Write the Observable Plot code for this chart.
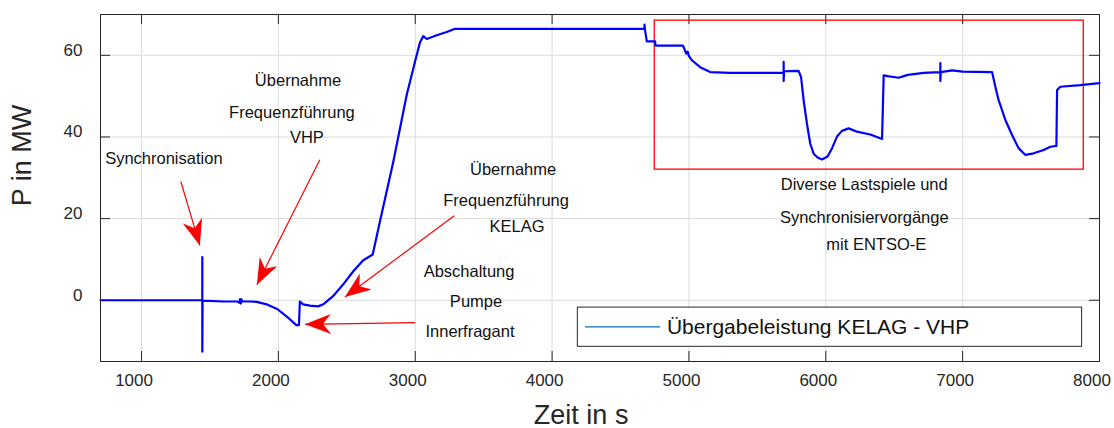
<!DOCTYPE html>
<html>
<head>
<meta charset="utf-8">
<script src="https://cdn.jsdelivr.net/npm/d3@7"></script>
<script src="https://cdn.jsdelivr.net/npm/@observablehq/plot@0.6"></script>
<style>
  html, body { margin: 0; padding: 0; background: #fff; }
  #chart { width: 1114px; height: 428px; }
</style>
</head>
<body>
<div id="chart"></div>
<script>
// ---- data ----
const timeS = [700, 1440, 1444, 1444, 1444, 1446, 1600, 1700, 1715, 1720, 1725, 1730, 1735, 1800, 1841, 1914, 1994, 2075, 2131, 2150, 2157, 2181, 2230, 2290, 2328, 2399, 2474, 2547, 2620, 2689, 2742, 2840, 2937, 2998, 3035, 3059, 3084, 3157, 3230, 3291, 4675, 4675, 4680, 4692, 4753, 4755, 4956, 4980, 4990, 5000, 5021, 5082, 5155, 5300, 5692, 5692, 5692, 5695, 5801, 5819, 5838, 5862, 5886, 5911, 5940, 5972, 6013, 6045, 6082, 6118, 6167, 6228, 6325, 6411, 6423, 6452, 6532, 6600, 6715, 6837, 6837, 6837, 6840, 6923, 7000, 7215, 7239, 7263, 7313, 7361, 7410, 7459, 7519, 7592, 7641, 7685, 7690, 7714, 7860, 8000];
const powerMW = [0, 0, 0, 10.6, -12.6, -0.1, -0.3, -0.3, -0.6, 0.3, -0.8, 0.2, -0.3, -0.3, -0.4, -1.0, -2.2, -4.4, -6.1, -6.1, -0.3, -1.0, -1.3, -1.5, -1.0, 1.0, 3.9, 7.1, 9.8, 11.2, 19.3, 34, 50.2, 58.4, 63.2, 64.7, 64.0, 64.9, 65.7, 66.5, 66.5, 67.5, 66.0, 63.4, 63.4, 62.4, 62.4, 60.4, 60.9, 59.8, 58.8, 57.1, 55.9, 55.7, 55.7, 58.4, 53.7, 56.1, 56.2, 54.7, 49.0, 43.3, 38.4, 35.9, 34.95, 34.5, 35.2, 37.2, 40.1, 41.5, 42.1, 41.3, 40.6, 39.5, 55.1, 54.9, 54.5, 55.2, 55.7, 55.9, 58.1, 53.7, 55.9, 56.3, 56.0, 55.9, 52.3, 49.0, 44.1, 40.5, 37.2, 35.6, 36.0, 36.8, 37.6, 37.8, 51.5, 52.3, 52.7, 53.2];

const xTicks = [1000, 2000, 3000, 4000, 5000, 6000, 7000, 8000];
const yTicks = [0, 20, 40, 60];

const seriesName = "Übergabeleistung KELAG - VHP";
const xLabel = "Zeit in s";
const yLabel = "P in MW";

// annotation texts (data coordinates)
const annText = ["Synchronisation",
  "Übernahme", "Frequenzführung", "VHP",
  "Übernahme", "Frequenzführung", "KELAG",
  "Abschaltung", "Pumpe", "Innerfragant",
  "Diverse Lastspiele und", "Synchronisiervorgänge", "mit ENTSO-E"];
const annX = [1163, 2143, 2099, 2208, 3715, 3664, 3744, 3393, 3444, 3400, 6281, 6281, 6369];
const annY = [34.7, 53.7, 45.9, 39.8, 32.0, 24.5, 17.9, 6.9, -0.4, -7.7, 28.4, 20.1, 13.5];

// annotation arrows: start -> tip
const arrowX1 = [1287, 2303, 3285, 2999];
const arrowY1 = [29.1, 34.4, 20.7, -5.5];
const arrowX2 = [1426, 1843, 2486, 2194];
const arrowY2 = [13.4, 3.8, 0.8, -5.9];

// highlight box
const boxX = [4750, 7885];
const boxY = [32, 68.5];

// legend box (inside axes)
const legendBoxX = [4188, 7873];
const legendBoxY = [-11.4, -1.8];
const legendLineX = [4241, 4790];
const legendY = -6.5;
const legendTextX = 4839;

// ---- build ----
const data = timeS.map((t, i) => ({t, p: powerMW[i]}));
const ann = annText.map((s, i) => ({s, x: annX[i], y: annY[i]}));
const arrows = arrowX1.map((x1, i) => ({x1, y1: arrowY1[i], x2: arrowX2[i], y2: arrowY2[i]}));

const W = 1114, H = 428;
const mL = 100, mR = 15, mT = 14, mB = 67;
const pw = W - mL - mR, ph = H - mT - mB;
const ink = "#262626";
const font = "'Liberation Sans', Arial, Helvetica, sans-serif";

const chart = Plot.plot({
  width: W, height: H,
  marginLeft: mL, marginRight: mR, marginTop: mT, marginBottom: mB,
  style: {fontFamily: font, background: "white", overflow: "visible"},
  x: {domain: [700, 8000], label: null},
  y: {domain: [-15, 70], label: null},
  marks: [
    Plot.gridX({ticks: xTicks, stroke: "#dcdcdc", strokeOpacity: 1}),
    Plot.gridY({ticks: yTicks, stroke: "#dcdcdc", strokeOpacity: 1}),
    Plot.axisX({ticks: xTicks, tickSize: 0, tickPadding: 12, fontSize: 17, fill: ink, dx: -7.5, tickFormat: d => String(d), label: null}),
    Plot.axisY({ticks: yTicks, tickSize: 0, tickPadding: 18, fontSize: 17, fill: ink, dy: -5, tickFormat: d => String(d), label: null}),
    // inward ticks on all four sides (box on)
    Plot.tickX(xTicks, {x: d => d, insetTop: ph - 10, stroke: ink}),
    Plot.tickX(xTicks, {x: d => d, insetBottom: ph - 10, stroke: ink}),
    Plot.tickY(yTicks, {y: d => d, insetRight: pw - 10, stroke: ink}),
    Plot.tickY(yTicks, {y: d => d, insetLeft: pw - 10, stroke: ink}),
    // red highlight box
    Plot.rect([0], {x1: () => boxX[0], x2: () => boxX[1], y1: () => boxY[0], y2: () => boxY[1], fill: "none", stroke: "#ff0000", strokeWidth: 1.3}),
    // data line
    Plot.line(data, {x: "t", y: "p", stroke: "#0000ff", strokeWidth: 2.2, strokeLinejoin: "round"}),
    // annotation arrows
    Plot.link(arrows, {x1: "x1", y1: "y1", x2: "x2", y2: "y2", stroke: "#ff0000", strokeWidth: 1.2, className: "annot-arrow"}),
    // annotation texts
    Plot.text(ann, {x: "x", y: "y", text: "s", fontSize: 16.5, fill: "#111", textAnchor: "middle", lineAnchor: "middle"}),
    // legend
    Plot.rect([0], {x1: () => legendBoxX[0], x2: () => legendBoxX[1], y1: () => legendBoxY[0], y2: () => legendBoxY[1], fill: "white", stroke: ink, strokeWidth: 1}),
    Plot.link([0], {x1: () => legendLineX[0], x2: () => legendLineX[1], y1: () => legendY, y2: () => legendY, stroke: "#0072BD", strokeWidth: 1.3}),
    Plot.text([seriesName], {x: () => legendTextX, y: () => legendY, text: d => d, fontSize: 21, fill: "#111", textAnchor: "start", lineAnchor: "middle"}),
    // axis titles
    Plot.text([xLabel], {x: () => 4212, frameAnchor: "bottom", text: d => d, fontSize: 27, fill: ink, lineAnchor: "bottom", dy: 62}),
    Plot.text([yLabel], {y: () => 23, frameAnchor: "left", text: d => d, fontSize: 27, fill: ink, rotate: -90, lineAnchor: "bottom", dx: -70}),
    Plot.frame({stroke: ink, strokeWidth: 1})
  ]
});

document.getElementById("chart").appendChild(chart);

// filled, notched arrowheads (MATLAB annotation style)
const svg = d3.select(chart);
const defs = svg.insert("defs", ":first-child");
defs.append("marker")
  .attr("id", "redHead")
  .attr("markerUnits", "userSpaceOnUse")
  .attr("viewBox", "0 0 26 20")
  .attr("refX", 26).attr("refY", 10)
  .attr("markerWidth", 26).attr("markerHeight", 20)
  .attr("orient", "auto")
  .append("path")
  .attr("d", "M0,0 L26,10 L0,20 L8,10 Z")
  .attr("fill", "#ff0000");
svg.selectAll(".annot-arrow path").attr("marker-end", "url(#redHead)");
</script>
</body>
</html>
